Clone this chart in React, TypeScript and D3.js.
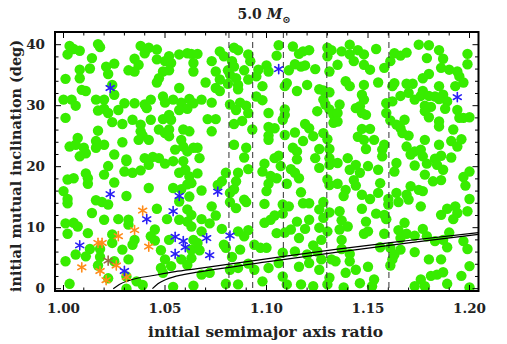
import React from "react";
import * as d3 from "d3";

// ---------- data ----------
const xTickValues = [1.0, 1.05, 1.1, 1.15, 1.2];
const xTickLabels = ["1.00", "1.05", "1.10", "1.15", "1.20"];
const yTickValues = [0, 10, 20, 30, 40];
const yTickLabels = ["0", "10", "20", "30", "40"];

const dashedX = [1.0815, 1.0932, 1.1083, 1.1297, 1.1603];

const curveA: [number, number][] = [
  [1.0245, 0.0], [1.0275, 0.7], [1.0328, 1.4], [1.045, 2.2], [1.055, 2.8],
  [1.066, 3.3], [1.1, 4.9], [1.135, 6.5], [1.17, 7.9], [1.2044, 9.2],
];
const curveB: [number, number][] = [
  [1.0438, 0.0], [1.0465, 0.8], [1.0505, 1.5], [1.059, 2.3], [1.066, 2.7], [1.1, 4.4],
  [1.135, 6.0], [1.17, 7.5], [1.2044, 8.9],
];

const greenPoints: [number, number][] = [
  // upper left
  [1.003,39.8],[1.005,39.3],[1.008,39.0],[1.002,38.4],[1.017,40.1],[1.018,39.6],[1.014,37.8],[1.008,35.9],[1.013,36.1],[1.021,36.4],[1.025,36.9],[1.022,35.2],[1.001,34.4],[1.008,34.5],[1.009,32.6],[1.011,32.4],[1.016,31.0],[1.020,31.0],[1.024,33.4],[1.025,31.8],[1.000,31.0],[1.004,31.0],[1.006,30.0],[1.001,28.0],[1.017,29.2],[1.020,29.5],[1.022,28.8],[1.024,27.3],[1.027,29.3],[1.030,30.4],[1.029,27.0],[1.035,30.4],[1.034,27.7],[1.040,30.2],[1.041,29.6],[1.043,31.0],[1.038,39.8],[1.040,38.6],[1.042,39.5],[1.046,39.2],[1.035,37.7],[1.037,36.7],[1.032,35.8],[1.035,35.6],[1.046,37.6],[1.050,37.3],[1.052,38.1],[1.053,37.0],[1.052,35.8],[1.049,35.6],[1.047,34.5],[1.046,33.8],[1.057,38.4],[1.061,38.6],[1.063,38.5],[1.064,37.0],[1.064,35.6],[1.057,32.9],[1.049,31.5],[1.050,30.5],[1.054,31.0],[1.058,30.5],[1.062,31.1],[1.064,30.4],[1.061,29.5],[1.057,29.3],[1.052,28.5],[1.049,27.8],[1.053,27.7],[1.043,27.7],[1.038,26.9],[1.038,25.8],[1.039,25.1],[1.037,24.4],[1.042,24.4],[1.047,26.1],[1.050,25.5],[1.052,26.1],[1.052,25.0],[1.059,26.1],[1.062,25.8],[1.058,24.4],[1.059,23.3],[1.064,23.1],[1.055,22.8],[1.061,22.5],[1.017,25.9],[1.016,24.2],[1.020,23.6],[1.016,23.1],[1.007,24.7],[1.003,23.3],[1.006,23.6],[1.010,23.1],[1.011,22.2],[1.008,21.7],[1.025,22.0],[1.029,24.0],[1.031,21.2],[1.040,21.4],[1.044,21.6],[1.047,21.4],
  // upper middle
  [1.066,38.5],[1.077,38.9],[1.079,38.1],[1.073,37.3],[1.084,39.5],[1.086,39.1],[1.091,38.4],[1.092,37.3],[1.083,37.3],[1.084,36.4],[1.081,35.8],[1.075,35.6],[1.089,35.8],[1.096,35.9],[1.100,36.6],[1.101,35.6],[1.105,38.2],[1.106,39.9],[1.077,34.3],[1.082,35.1],[1.085,34.5],[1.086,33.4],[1.086,32.7],[1.081,33.6],[1.070,33.8],[1.075,32.9],[1.077,32.4],[1.091,34.3],[1.095,34.8],[1.098,33.2],[1.068,31.0],[1.073,30.5],[1.082,30.2],[1.087,30.5],[1.090,30.0],[1.085,29.3],[1.091,28.8],[1.095,31.5],[1.098,30.9],[1.071,27.8],[1.075,27.8],[1.088,27.5],[1.084,27.0],[1.101,28.8],[1.073,25.8],[1.093,26.1],[1.101,26.5],[1.104,26.3],[1.101,25.1],[1.101,24.4],[1.084,23.6],[1.090,23.1],[1.089,21.5],[1.066,23.1],[1.067,21.4],[1.104,21.4],[1.106,21.8],[1.109,29.4],[1.109,28.5],[1.108,27.7],[1.109,25.2],[1.114,25.6],[1.119,27.0],[1.121,26.3],[1.118,24.2],[1.123,25.0],[1.113,23.1],[1.115,22.5],[1.115,21.2],[1.124,21.4],[1.126,22.9],[1.128,25.5],[1.130,24.5],[1.131,22.9],[1.131,21.4],[1.110,33.7],[1.109,33.2],[1.115,32.4],[1.120,33.4],[1.125,29.1],[1.111,35.8],[1.114,36.8],[1.117,36.4],[1.119,36.6],[1.124,36.0],[1.113,39.7],[1.116,38.5],[1.118,38.9],[1.121,39.1],[1.130,39.5],[1.132,39.1],[1.130,38.1],[1.131,35.6],[1.126,32.7],[1.128,32.5],[1.131,32.2],[1.128,31.0],[1.129,30.2],[1.131,29.4],[1.133,28.5],[1.133,27.2],
  // upper right
  [1.141,40.0],[1.137,38.9],[1.141,38.4],[1.145,39.1],[1.148,38.4],[1.154,39.3],[1.143,37.3],[1.135,36.7],[1.148,36.7],[1.151,35.9],[1.158,36.2],[1.161,37.3],[1.163,38.6],[1.166,38.2],[1.169,38.7],[1.175,40.0],[1.180,39.9],[1.179,37.8],[1.185,39.1],[1.187,37.7],[1.199,38.5],[1.199,36.8],[1.186,36.2],[1.190,35.9],[1.194,35.6],[1.195,34.8],[1.197,33.8],[1.180,35.2],[1.177,34.5],[1.139,34.0],[1.141,33.2],[1.148,33.4],[1.155,33.8],[1.163,33.7],[1.162,33.2],[1.169,33.6],[1.172,33.6],[1.185,33.2],[1.193,33.2],[1.170,32.1],[1.166,31.6],[1.173,31.0],[1.177,32.4],[1.176,31.6],[1.180,31.6],[1.183,31.5],[1.187,31.8],[1.185,31.1],[1.189,30.7],[1.188,29.5],[1.178,30.0],[1.181,29.8],[1.178,29.1],[1.180,28.1],[1.185,27.4],[1.185,26.6],[1.194,29.3],[1.195,28.0],[1.197,28.0],[1.200,28.1],[1.147,31.8],[1.148,31.0],[1.146,29.9],[1.144,29.6],[1.149,28.5],[1.147,28.8],[1.136,30.2],[1.135,28.8],[1.135,27.4],[1.159,30.4],[1.159,28.8],[1.162,30.7],[1.161,27.6],[1.164,26.9],[1.166,26.3],[1.168,27.7],[1.167,25.5],[1.170,25.1],[1.147,26.2],[1.151,26.2],[1.145,24.9],[1.148,24.4],[1.153,24.4],[1.158,23.6],[1.157,22.8],[1.149,22.9],[1.157,21.7],[1.140,21.4],[1.169,23.3],[1.171,22.0],[1.173,22.5],[1.176,22.8],[1.177,21.7],[1.178,24.4],[1.185,23.6],[1.186,21.8],[1.183,21.3],[1.191,24.2],[1.192,26.1],[1.196,24.5],[1.194,23.3],[1.191,21.5],
  // lower left
  [1.022,20.1],[1.031,20.9],[1.042,20.3],[1.020,18.7],[1.030,19.2],[1.034,19.0],[1.038,19.4],[1.025,17.4],[1.011,18.9],[1.012,18.1],[1.012,17.2],[1.002,17.9],[1.005,18.1],[1.000,16.0],[1.002,14.7],[1.002,14.0],[1.016,14.5],[1.019,14.2],[1.022,13.8],[1.031,15.2],[1.042,16.5],[1.014,12.4],[1.020,11.3],[1.027,11.4],[1.032,11.3],[1.032,10.5],[1.001,10.7],[1.005,10.8],[1.007,10.2],[1.002,9.0],[1.012,9.1],[1.024,8.9],[1.035,8.0],[1.034,7.2],[1.045,9.7],[1.043,8.6],[1.045,7.9],[1.046,13.1],[1.051,11.4],[1.057,11.3],[1.061,11.0],[1.063,10.2],[1.048,6.3],[1.052,8.0],[1.050,4.8],[1.048,3.4],[1.049,2.6],[1.053,3.7],[1.058,4.8],[1.063,5.0],[1.061,3.9],[1.013,6.5],[1.018,6.5],[1.006,5.6],[1.011,5.3],[1.001,4.5],[1.018,5.2],[1.017,3.8],[1.024,7.5],[1.029,6.4],[1.025,4.5],[1.032,4.8],[1.031,2.0],[1.036,1.2],[1.039,0.6],[1.003,0.8],[1.022,1.7],[1.057,19.0],[1.060,19.5],[1.062,18.4],[1.061,17.1],[1.063,17.3],[1.058,16.3],[1.054,16.5],[1.062,15.1],[1.057,14.3],[1.061,13.0],[1.063,12.1],[1.064,8.0],[1.063,6.4],[1.054,20.9],[1.059,20.9],[1.050,20.5],[1.031,0.0],[1.054,0.3],[1.064,0.5],
  // lower middle
  [1.066,18.9],[1.078,17.6],[1.076,17.0],[1.080,19.0],[1.086,19.0],[1.085,17.6],[1.084,16.3],[1.082,15.7],[1.068,16.1],[1.091,19.6],[1.099,20.5],[1.098,19.2],[1.102,18.5],[1.105,18.1],[1.101,17.2],[1.100,16.0],[1.107,20.1],[1.112,19.6],[1.114,19.0],[1.116,18.1],[1.110,17.2],[1.117,15.8],[1.089,14.6],[1.090,14.2],[1.085,13.2],[1.082,14.2],[1.073,13.5],[1.075,12.0],[1.068,11.4],[1.072,10.7],[1.078,9.8],[1.079,7.2],[1.080,6.7],[1.068,9.4],[1.066,7.5],[1.067,6.3],[1.086,9.4],[1.091,9.6],[1.089,8.6],[1.087,6.4],[1.094,7.2],[1.097,6.7],[1.100,6.7],[1.099,10.8],[1.102,11.3],[1.104,12.0],[1.099,13.9],[1.108,12.3],[1.105,9.1],[1.109,9.2],[1.112,9.7],[1.115,11.0],[1.121,11.3],[1.119,9.8],[1.108,13.8],[1.111,13.5],[1.118,14.0],[1.121,14.0],[1.126,13.0],[1.128,14.2],[1.131,12.5],[1.128,11.6],[1.126,10.0],[1.130,9.4],[1.127,8.0],[1.123,7.1],[1.125,6.1],[1.120,5.6],[1.116,8.3],[1.114,6.1],[1.108,5.9],[1.106,4.2],[1.108,2.0],[1.101,3.4],[1.098,1.2],[1.110,0.7],[1.116,3.6],[1.121,4.2],[1.126,3.1],[1.127,4.8],[1.132,4.8],[1.131,1.8],[1.130,0.7],[1.117,0.7],[1.091,4.1],[1.094,3.1],[1.086,3.4],[1.082,3.1],[1.086,0.7],[1.080,0.8],[1.072,2.6],[1.068,2.3],[1.083,5.2],[1.131,20.3],[1.126,19.8],[1.130,17.9],[1.131,17.0],[1.123,0.4],
  // lower right
  [1.135,20.6],[1.141,19.5],[1.144,20.3],[1.146,19.0],[1.150,20.1],[1.155,19.5],[1.143,17.8],[1.144,16.9],[1.139,16.2],[1.135,17.2],[1.138,15.2],[1.147,15.4],[1.151,14.7],[1.155,15.7],[1.156,17.3],[1.160,14.7],[1.160,13.8],[1.164,15.7],[1.163,19.2],[1.164,20.6],[1.173,20.2],[1.179,20.5],[1.184,20.3],[1.187,19.5],[1.178,18.7],[1.182,17.6],[1.186,17.8],[1.197,18.3],[1.200,19.2],[1.198,16.9],[1.171,16.8],[1.175,16.2],[1.177,16.0],[1.169,15.4],[1.170,14.6],[1.165,14.2],[1.176,13.5],[1.136,12.7],[1.147,13.1],[1.154,12.3],[1.158,12.1],[1.159,11.4],[1.149,11.0],[1.137,11.2],[1.140,10.2],[1.136,9.7],[1.150,9.4],[1.148,9.0],[1.158,9.0],[1.165,9.6],[1.168,10.8],[1.169,9.0],[1.177,9.8],[1.173,8.7],[1.179,8.6],[1.186,12.1],[1.189,13.1],[1.193,13.5],[1.194,12.4],[1.199,12.7],[1.192,11.4],[1.200,14.7],[1.190,9.2],[1.187,8.0],[1.189,6.8],[1.183,7.8],[1.197,7.8],[1.199,6.5],[1.137,8.0],[1.137,6.5],[1.141,5.7],[1.134,4.5],[1.141,4.5],[1.144,3.1],[1.139,2.6],[1.146,0.9],[1.150,3.6],[1.153,1.5],[1.152,0.4],[1.156,6.8],[1.161,6.7],[1.163,5.6],[1.162,4.8],[1.161,3.8],[1.166,6.4],[1.166,8.3],[1.173,6.0],[1.180,4.8],[1.186,4.8],[1.181,2.1],[1.184,2.3],[1.187,2.7],[1.176,1.5],[1.173,0.4],[1.178,0.4],[1.196,2.1],[1.200,0.2],[1.200,3.7],[1.138,0.2],[1.189,0.8],
];

const blueStars: [number, number][] = [
  [1.023,32.9],[1.106,36.0],[1.194,31.4],[1.023,15.5],[1.057,15.2],[1.054,12.7],[1.041,11.4],
  [1.008,7.1],[1.055,8.5],[1.059,7.8],[1.060,6.8],[1.055,5.7],[1.030,2.9],[1.076,15.9],
  [1.0705,8.3],[1.082,8.7],[1.072,5.5],
];
const orangeStars: [number, number][] = [
  [1.039,12.8],[1.035,9.6],[1.027,8.6],[1.017,7.5],[1.019,7.5],[1.042,6.9],[1.009,3.5],
  [1.018,2.9],[1.026,3.8],[1.031,1.9],[1.021,1.4],
];
const brownStars: [number, number][] = [[1.022, 4.6]];

// ---------- layout ----------
const W = 507, H = 344;
const left = 55, right = 478.5, top = 32, bottom = 291;
const FONT = "'DejaVu Serif', serif";

function Star({ cx, cy, color }: { cx: number; cy: number; color: string }) {
  const r = 4.6;
  const angles = [90, 30, 150];
  return (
    <g stroke={color} strokeWidth={1.6} strokeLinecap="round">
      {angles.map((a) => {
        const rad = (a * Math.PI) / 180;
        const dx = r * Math.cos(rad), dy = r * Math.sin(rad);
        return <line key={a} x1={cx - dx} y1={cy - dy} x2={cx + dx} y2={cy + dy} />;
      })}
    </g>
  );
}

export default function App() {
  const x = d3.scaleLinear().domain([0.99581, 1.20443]).range([left, right]);
  const y = d3.scaleLinear().domain([-0.38, 42.08]).range([bottom, top]);
  const line = d3.line<[number, number]>().x((d) => x(d[0])).y((d) => y(d[1])).curve(d3.curveMonotoneX);

  const xMinor = d3.range(0, 21).map((i) => 1 + i * 0.01);
  const yMinor = d3.range(0, 21).map((i) => i * 2);
  const isMajorX = (v: number) => Math.abs(v * 20 - Math.round(v * 20)) < 1e-6;
  const isMajorY = (v: number) => v % 10 === 0;

  return (
    <svg width={W} height={H} style={{ display: "block", position: "absolute", left: 0, top: 0 }}>
      <rect width={W} height={H} fill="white" />
      <defs>
        <clipPath id="plot">
          <rect x={left} y={top} width={right - left} height={bottom - top} />
        </clipPath>
      </defs>
      <g clipPath="url(#plot)">
        {greenPoints.map((d, i) => (
          <circle key={i} cx={x(d[0])} cy={y(d[1])} r={5.2} fill="#38ec00" />
        ))}
        {dashedX.map((v) => (
          <line key={v} x1={x(v)} x2={x(v)} y1={top} y2={bottom} stroke="#333" strokeWidth={1} strokeDasharray="6,4" />
        ))}
        <path d={line(curveA) || ""} fill="none" stroke="black" strokeWidth={1.2} />
        <path d={line(curveB) || ""} fill="none" stroke="black" strokeWidth={1.2} />
        {orangeStars.map((d, i) => (
          <Star key={"o" + i} cx={x(d[0])} cy={y(d[1])} color="#ff8c1a" />
        ))}
        {brownStars.map((d, i) => (
          <Star key={"b" + i} cx={x(d[0])} cy={y(d[1])} color="#996644" />
        ))}
        {blueStars.map((d, i) => (
          <Star key={"u" + i} cx={x(d[0])} cy={y(d[1])} color="#2a1ff5" />
        ))}
      </g>
      {/* ticks */}
      <g stroke="black" strokeWidth={1}>
        {xMinor.map((v) => {
          const len = isMajorX(v) ? 6 : 3.5;
          return (
            <g key={"xt" + v}>
              <line x1={x(v)} x2={x(v)} y1={bottom} y2={bottom - len} />
              <line x1={x(v)} x2={x(v)} y1={top} y2={top + len} />
            </g>
          );
        })}
        {yMinor.map((v) => {
          const len = isMajorY(v) ? 6 : 3.5;
          return (
            <g key={"yt" + v}>
              <line x1={left} x2={left + len} y1={y(v)} y2={y(v)} />
              <line x1={right} x2={right - len} y1={y(v)} y2={y(v)} />
            </g>
          );
        })}
      </g>
      <rect x={left} y={top} width={right - left} height={bottom - top} fill="none" stroke="black" strokeWidth={2} />
      {/* tick labels */}
      {xTickValues.map((v, i) => (
        <text key={"xl" + i} x={x(v)} y={313} textAnchor="middle" fontFamily={FONT} fontWeight="bold" fontSize={13.5} fill="#222">
          {xTickLabels[i]}
        </text>
      ))}
      {yTickValues.map((v, i) => (
        <text key={"yl" + i} x={45} y={y(v) + 4.5} textAnchor="end" fontFamily={FONT} fontWeight="bold" fontSize={13.5} fill="#222">
          {yTickLabels[i]}
        </text>
      ))}
      {/* axis titles */}
      <text x={265.5} y={337} textAnchor="middle" fontFamily={FONT} fontWeight="bold" fontSize={14} fill="#222" textLength={235} lengthAdjust="spacingAndGlyphs">
        initial semimajor axis ratio
      </text>
      <text transform="translate(21,166) rotate(-90)" textAnchor="middle" fontFamily={FONT} fontWeight="bold" fontSize={14} fill="#222" textLength={252} lengthAdjust="spacingAndGlyphs">
        initial mutual inclination (deg)
      </text>
      {/* title */}
      <text x={264} y={19} textAnchor="middle" fontFamily={FONT} fontWeight="bold" fontSize={14} fill="#222">
        5.0 <tspan fontStyle="italic">M</tspan>
        <tspan fontSize={10} dy={4}>⊙</tspan>
      </text>
    </svg>
  );
}
